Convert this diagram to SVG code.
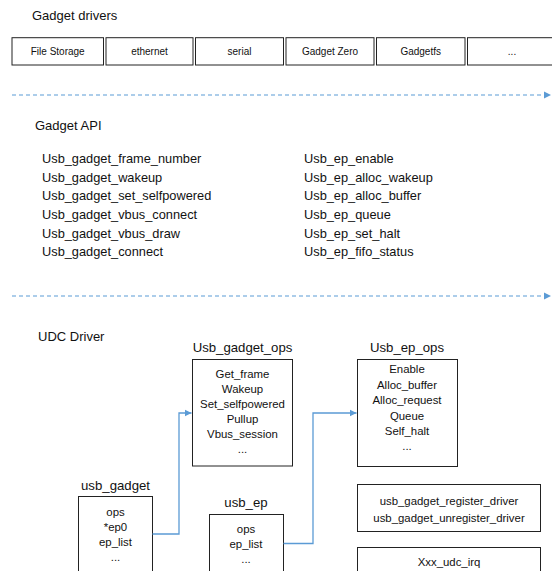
<svg xmlns="http://www.w3.org/2000/svg" width="552" height="571" viewBox="0 0 552 571">
<style>
text{font-family:"Liberation Sans",Arial,sans-serif;fill:#111}
.t{font-size:13px}
.d{font-size:10px;text-anchor:middle}
.l{font-size:12.8px}
.b{font-size:11.4px;text-anchor:middle}
.h{font-size:13.2px;text-anchor:middle}
.box{fill:#fff;stroke:#222;stroke-width:1}
.dash{stroke:#5B9BD5;stroke-width:1.2;stroke-dasharray:4 3;fill:none}
.conn{stroke:#5B9BD5;stroke-width:1.3;fill:none}
</style>
<defs>
<marker id="ah" markerWidth="8" markerHeight="8" refX="7" refY="4" orient="auto" markerUnits="userSpaceOnUse"><path d="M0,0.5 L7,4 L0,7.5 Z" fill="#5B9BD5"/></marker>
</defs>
<text class="t" x="32" y="20">Gadget drivers</text>
<g id="drivers">
<g id="d1"><rect class="box" x="12" y="37.7" width="91.5" height="27.3"/><text class="d" x="57.7" y="55">File Storage</text></g>
<g id="d2"><rect class="box" x="106" y="37.7" width="87" height="27.3"/><text class="d" x="149.5" y="55">ethernet</text></g>
<g id="d3"><rect class="box" x="195.5" y="37.7" width="88" height="27.3"/><text class="d" x="239.5" y="55">serial</text></g>
<g id="d4"><rect class="box" x="286" y="37.7" width="88" height="27.3"/><text class="d" x="330" y="55">Gadget Zero</text></g>
<g id="d5"><rect class="box" x="376.5" y="37.7" width="88.5" height="27.3"/><text class="d" x="420.7" y="55">Gadgetfs</text></g>
<g id="d6"><rect class="box" x="467.5" y="37.7" width="90" height="27.3"/><text class="d" x="512" y="55">...</text></g>
</g>
<g id="separators">
<line class="dash" x1="12" y1="95" x2="551" y2="95" marker-end="url(#ah)"/>
<line class="dash" x1="12" y1="296" x2="551" y2="296" marker-end="url(#ah)"/>
</g>
<g id="gadget-api">
<text class="t" x="35" y="130">Gadget API</text>
<text class="l" x="42" y="163">Usb_gadget_frame_number</text>
<text class="l" x="42" y="182">Usb_gadget_wakeup</text>
<text class="l" x="42" y="200">Usb_gadget_set_selfpowered</text>
<text class="l" x="42" y="219">Usb_gadget_vbus_connect</text>
<text class="l" x="42" y="238">Usb_gadget_vbus_draw</text>
<text class="l" x="42" y="256">Usb_gadget_connect</text>
<text class="l" x="304" y="163">Usb_ep_enable</text>
<text class="l" x="304" y="182">Usb_ep_alloc_wakeup</text>
<text class="l" x="304" y="200">Usb_ep_alloc_buffer</text>
<text class="l" x="304" y="219">Usb_ep_queue</text>
<text class="l" x="304" y="238">Usb_ep_set_halt</text>
<text class="l" x="304" y="256">Usb_ep_fifo_status</text>
</g>
<text class="t" x="38" y="341">UDC Driver</text>
<g id="usb_gadget_ops">
<text class="h" x="242.5" y="352">Usb_gadget_ops</text>
<rect class="box" x="192.5" y="359.5" width="100" height="106.5"/>
<text class="b" x="242.5" y="378">Get_frame</text>
<text class="b" x="242.5" y="393">Wakeup</text>
<text class="b" x="242.5" y="408">Set_selfpowered</text>
<text class="b" x="242.5" y="423">Pullup</text>
<text class="b" x="242.5" y="438">Vbus_session</text>
<text class="b" x="242.5" y="453">...</text>
</g>
<g id="usb_ep_ops">
<text class="h" x="407" y="352">Usb_ep_ops</text>
<rect class="box" x="357.5" y="359.5" width="100" height="107"/>
<text class="b" x="407" y="373">Enable</text>
<text class="b" x="407" y="389">Alloc_buffer</text>
<text class="b" x="407" y="404">Alloc_request</text>
<text class="b" x="407" y="420">Queue</text>
<text class="b" x="407" y="435">Self_halt</text>
<text class="b" x="407" y="450">...</text>
</g>
<g id="usb_gadget">
<text class="h" x="115.5" y="490">usb_gadget</text>
<rect class="box" x="78.5" y="496.5" width="74" height="80"/>
<text class="b" x="115.5" y="516">ops</text>
<text class="b" x="115.5" y="531">*ep0</text>
<text class="b" x="115.5" y="546">ep_list</text>
<text class="b" x="115.5" y="561">...</text>
</g>
<g id="usb_ep">
<text class="h" x="246" y="507">usb_ep</text>
<rect class="box" x="209.5" y="514.5" width="74" height="70"/>
<text class="b" x="246" y="533">ops</text>
<text class="b" x="246" y="548">ep_list</text>
<text class="b" x="246" y="563">...</text>
</g>
<g id="register">
<rect class="box" x="357.5" y="484.5" width="183" height="47"/>
<text class="b" x="449" y="505">usb_gadget_register_driver</text>
<text class="b" x="449" y="522">usb_gadget_unregister_driver</text>
</g>
<g id="irq">
<rect class="box" x="357.5" y="547.5" width="183" height="40"/>
<text class="b" x="449" y="566">Xxx_udc_irq</text>
</g>
<g id="connectors">
<polyline class="conn" points="152.5,534 179,534 179,413 191.5,413" marker-end="url(#ah)"/>
<polyline class="conn" points="283.5,543.5 313,543.5 313,413 356.5,413" marker-end="url(#ah)"/>
</g>
</svg>
